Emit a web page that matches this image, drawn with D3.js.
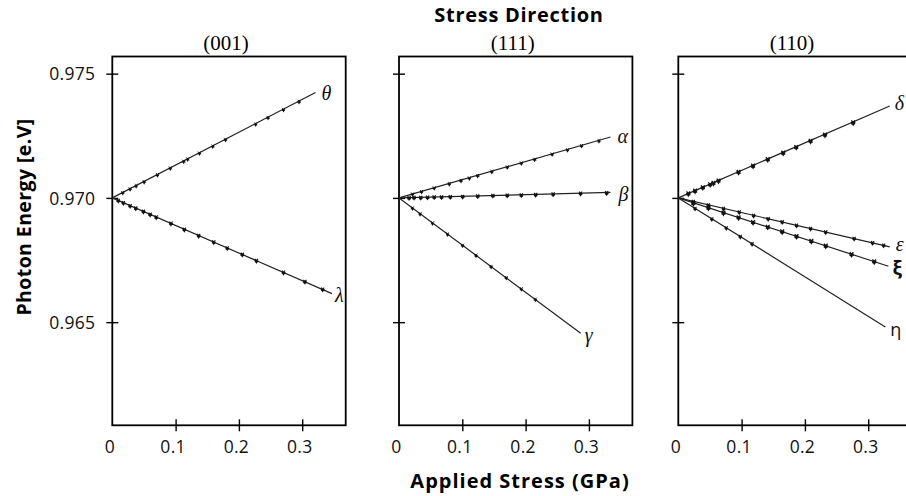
<!DOCTYPE html>
<html>
<head>
<meta charset="utf-8">
<script src="https://cdn.jsdelivr.net/npm/d3@7"></script>
<style>
  html, body { margin: 0; padding: 0; background: #fff; }
  svg { display: block; }
</style>
</head>
<body>
<svg id="chart" width="906" height="496"></svg>
<script>
// Panel headings (stress direction) and shared ticks
const panelTitles = ["(001)", "(111)", "(110)"];
const xTicks = [0, 0.1, 0.2, 0.3];
const yTicks = [0.965, 0.970, 0.975];

// (001) stress
const thetaStress = [0.0165, 0.0281, 0.0376, 0.0503, 0.0714, 0.0916, 0.1127, 0.119, 0.1376, 0.1587, 0.1789, 0.2265, 0.246, 0.2705, 0.295];
const thetaEnergy = [0.97022, 0.97037, 0.97050, 0.97066, 0.97094, 0.97121, 0.97148, 0.97157, 0.97181, 0.97209, 0.97236, 0.97298, 0.97324, 0.97356, 0.97389];
const thetaFit = [[0, 0.970], [0.321, 0.97424]];

const lambdaStress = [0.0095, 0.0175, 0.0281, 0.0371, 0.0492, 0.0598, 0.0694, 0.0927, 0.1138, 0.1365, 0.1603, 0.1816, 0.2054, 0.2276, 0.2705, 0.3043, 0.3324];
const lambdaEnergy = [0.96990, 0.96981, 0.96969, 0.96959, 0.96946, 0.96934, 0.96923, 0.96898, 0.96874, 0.96849, 0.96823, 0.96799, 0.96773, 0.96748, 0.96701, 0.96664, 0.96633];
const lambdaFit = [[0, 0.970], [0.347, 0.96615]];

// (111) stress
const alphaStress = [0.0213, 0.0356, 0.0556, 0.0794, 0.0979, 0.1111, 0.1244, 0.1467, 0.171, 0.1932, 0.2143, 0.2419, 0.2662, 0.2884, 0.3159];
const alphaEnergy = [0.97016, 0.97026, 0.97041, 0.97058, 0.97071, 0.97081, 0.97091, 0.97107, 0.97125, 0.97141, 0.97156, 0.97177, 0.97194, 0.97211, 0.97231];
const alphaFit = [[0, 0.970], [0.334, 0.97245]];

const betaStress = [0.0159, 0.0238, 0.0344, 0.0451, 0.0556, 0.0673, 0.081, 0.1006, 0.1244, 0.1483, 0.171, 0.1932, 0.2159, 0.2435, 0.2868, 0.3281];
const betaEnergy = [0.97001, 0.97002, 0.97002, 0.97003, 0.97004, 0.97004, 0.97005, 0.97006, 0.97008, 0.97010, 0.97011, 0.97012, 0.97014, 0.97016, 0.97019, 0.97021];
const betaFit = [[0, 0.970], [0.334, 0.97022]];

const gammaStress = [0.0213, 0.0333, 0.053, 0.0768, 0.1006, 0.1217, 0.1456, 0.1694, 0.1932, 0.2154];
const gammaEnergy = [0.96960, 0.96937, 0.96900, 0.96855, 0.96810, 0.96770, 0.96725, 0.96680, 0.96635, 0.96593];
const gammaFit = [[0, 0.970], [0.287, 0.96455]];

// (110) stress
const deltaStress = [0.0159, 0.0265, 0.0387, 0.0503, 0.0556, 0.0635, 0.0952, 0.1181, 0.1413, 0.1657, 0.1863, 0.209, 0.2317, 0.2762];
const deltaEnergy = [0.97018, 0.97029, 0.97043, 0.97055, 0.97061, 0.97070, 0.97105, 0.97130, 0.97156, 0.97182, 0.97205, 0.97230, 0.97255, 0.97304];
const deltaFit = [[0, 0.970], [0.334, 0.97370]];

const epsilonStress = [0.0238, 0.0476, 0.0714, 0.0963, 0.119, 0.1419, 0.1641, 0.1868, 0.209, 0.2329, 0.2778, 0.307, 0.3244];
const epsilonEnergy = [0.96986, 0.96972, 0.96958, 0.96944, 0.96930, 0.96917, 0.96904, 0.96890, 0.96877, 0.96863, 0.96837, 0.96820, 0.96810];
const epsilonFit = [[0, 0.970], [0.334, 0.96803]];

const xiStress = [0.0238, 0.0476, 0.0714, 0.0952, 0.1181, 0.1413, 0.1641, 0.1868, 0.2102, 0.2329, 0.2737, 0.3095];
const xiEnergy = [0.96980, 0.96961, 0.96941, 0.96922, 0.96903, 0.96884, 0.96865, 0.96846, 0.96827, 0.96808, 0.96774, 0.96745];
const xiFit = [[0, 0.970], [0.332, 0.96725]];

const etaStress = [0.0265, 0.053, 0.0757, 0.0979, 0.1165];
const etaEnergy = [0.96958, 0.96916, 0.96880, 0.96845, 0.96816];
const etaFit = [[0, 0.970], [0.327, 0.96481]];

// Series table: which panel, the label and how it is typeset
const series = [
  { panel: 0, label: "θ", xs: thetaStress, ys: thetaEnergy, fit: thetaFit, font: "serif-i", dx: 6, dy: 0, mk: 1 },
  { panel: 0, label: "λ", xs: lambdaStress, ys: lambdaEnergy, fit: lambdaFit, font: "serif-i", dx: 3, dy: 1, mk: 1.3 },
  { panel: 1, label: "α", xs: alphaStress, ys: alphaEnergy, fit: alphaFit, font: "serif-i", dx: 7, dy: -1, mk: 1 },
  { panel: 1, label: "β", xs: betaStress, ys: betaEnergy, fit: betaFit, font: "serif-i", dx: 8, dy: 2, mk: 1.3 },
  { panel: 1, label: "γ", xs: gammaStress, ys: gammaEnergy, fit: gammaFit, font: "serif-i", dx: 4, dy: 2, mk: 1 },
  { panel: 2, label: "δ", xs: deltaStress, ys: deltaEnergy, fit: deltaFit, font: "serif-i", dx: 5, dy: -3, mk: 1.8 },
  { panel: 2, label: "ε", xs: epsilonStress, ys: epsilonEnergy, fit: epsilonFit, font: "serif-i", dx: 6, dy: -3, mk: 1.2 },
  { panel: 2, label: "ξ", xs: xiStress, ys: xiEnergy, fit: xiFit, font: "sans-b", dx: 4, dy: 2, mk: 1.8 },
  { panel: 2, label: "η", xs: etaStress, ys: etaEnergy, fit: etaFit, font: "sans", dx: 5, dy: 2, mk: 1.1 }
];

const svg = d3.select("#chart");
const panelLeft = [112.3, 399, 678.3];
const panelW = 233.4;
const plotTop = 56.5, plotBottom = 425.3;

const y = d3.scaleLinear().domain([0.96085, 0.97569]).range([plotBottom, plotTop]);

const SANS = "'Open Sans', 'DejaVu Sans', sans-serif";
const SERIF = "'Liberation Serif', 'DejaVu Serif', serif";

panelTitles.forEach((title, i) => {
  const x = d3.scaleLinear().domain([0, 0.3687]).range([panelLeft[i], panelLeft[i] + panelW]);
  const g = svg.append("g");

  // frame
  g.append("rect")
    .attr("x", x.range()[0]).attr("y", plotTop)
    .attr("width", panelW).attr("height", plotBottom - plotTop)
    .attr("fill", "none").attr("stroke", "#000").attr("stroke-width", 1.8);

  // left ticks crossing the frame
  const yAxis = d3.axisLeft(y).tickValues(yTicks).tickSize(0).tickFormat(i === 0 ? d3.format(".3f") : "");
  const ya = g.append("g").attr("transform", `translate(${x.range()[0]},0)`).call(yAxis);
  ya.select(".domain").remove();
  ya.selectAll(".tick").append("line")
    .attr("x1", -6).attr("x2", 6).attr("stroke", "#000").attr("stroke-width", 1.4);
  ya.selectAll(".tick text")
    .attr("x", -17).attr("dy", "0.36em")
    .attr("font-family", SANS).attr("font-size", 17.5).attr("letter-spacing", 0.3).attr("fill", "#111");

  // bottom ticks crossing the frame
  const xAxis = d3.axisBottom(x).tickValues(xTicks).tickSize(0).tickFormat(d => d === 0 ? "0" : d3.format(".1f")(d));
  const xa = g.append("g").attr("transform", `translate(0,${plotBottom})`).call(xAxis);
  xa.select(".domain").remove();
  xa.selectAll(".tick").filter(d => d !== 0).append("line")
    .attr("y1", -6).attr("y2", 6).attr("stroke", "#000").attr("stroke-width", 1.4);
  xa.selectAll(".tick text")
    .attr("y", 21).attr("dy", "0.36em").attr("dx", -3)
    .attr("font-family", SANS).attr("font-size", 17.5).attr("letter-spacing", 0.3).attr("fill", "#111");

  // panel heading
  g.append("text")
    .attr("x", x.range()[0] + panelW / 2 - 3).attr("y", 50)
    .attr("text-anchor", "middle")
    .attr("font-family", SERIF).attr("font-size", 21)
    .text(title);

  // series in this panel
  series.filter(s => s.panel === i).forEach(s => {
    g.append("path")
      .datum(s.fit)
      .attr("d", d3.line().x(d => x(d[0])).y(d => y(d[1])))
      .attr("fill", "none").attr("stroke", "#222").attr("stroke-width", 1.2);

    const pts = s.xs.map((v, k) => [v, s.ys[k]]);
    const sym = d3.symbol().type(d3.symbolTriangle).size(6 * s.mk);
    const sx = d3.symbol().type(d3.symbolX).size(6 * s.mk);
    g.selectAll(null).data(pts).enter().append("path")
      .attr("transform", d => `translate(${x(d[0])},${y(d[1]) + 1}) rotate(180)`)
      .attr("d", sym).attr("fill", "#111");
    g.selectAll(null).data(pts).enter().append("path")
      .attr("transform", d => `translate(${x(d[0])},${y(d[1])})`)
      .attr("d", sx).attr("fill", "none").attr("stroke", "#111").attr("stroke-width", 0.6 + 0.4 * s.mk);

    const end = s.fit[s.fit.length - 1];
    const t = g.append("text")
      .attr("x", x(end[0]) + s.dx).attr("y", y(end[1]) + s.dy)
      .attr("dominant-baseline", "central")
      .attr("fill", "#111")
      .text(s.label);
    if (s.font === "serif-i") {
      t.attr("font-family", SERIF).attr("font-style", "italic").attr("font-size", 20);
    } else if (s.font === "sans-b") {
      t.attr("font-family", SANS).attr("font-weight", "bold").attr("font-size", 19);
    } else {
      t.attr("font-family", SANS).attr("font-size", 18);
    }
  });
});

// overall titles
svg.append("text")
  .attr("x", 519).attr("y", 22)
  .attr("text-anchor", "middle")
  .attr("font-family", SANS).attr("font-weight", "bold").attr("font-size", 20).attr("letter-spacing", 0.7)
  .text("Stress Direction");

svg.append("text")
  .attr("x", 520).attr("y", 488)
  .attr("text-anchor", "middle")
  .attr("font-family", SANS).attr("font-weight", "bold").attr("font-size", 20).attr("letter-spacing", 1)
  .text("Applied Stress (GPa)");

svg.append("text")
  .attr("transform", "translate(31,217) rotate(-90)")
  .attr("text-anchor", "middle")
  .attr("font-family", SANS).attr("font-weight", "bold").attr("font-size", 19.5).attr("letter-spacing", 0.4)
  .text("Photon Energy [e.V]");
</script>
</body>
</html>
